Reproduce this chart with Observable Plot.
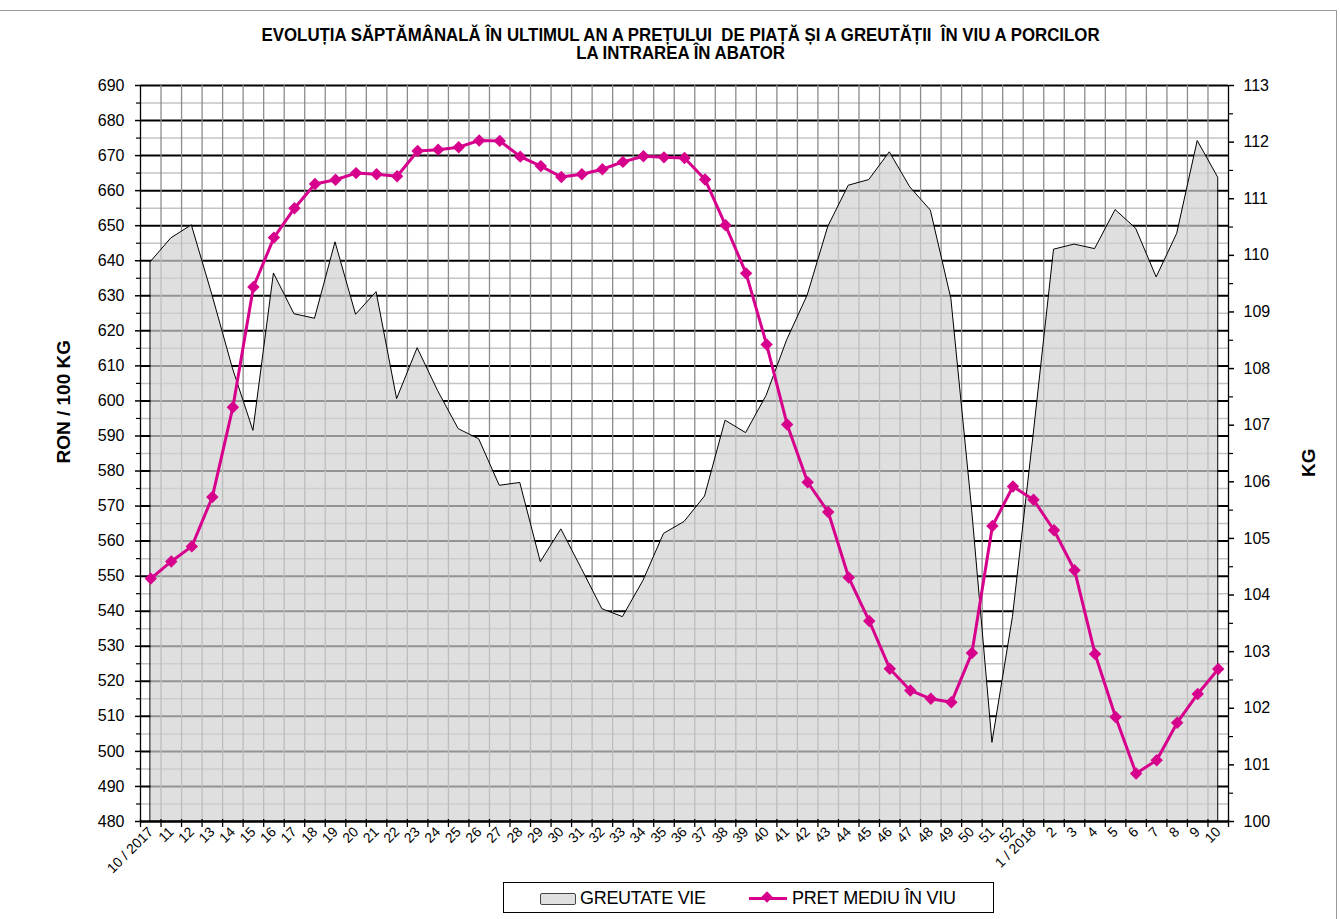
<!DOCTYPE html>
<html>
<head>
<meta charset="utf-8">
<script src="https://cdn.jsdelivr.net/npm/d3@7"></script>
<script src="https://cdn.jsdelivr.net/npm/@observablehq/plot@0.6"></script>
<style>
  html, body { margin: 0; padding: 0; background: #fff; }
  body { font-family: "Liberation Sans", Arial, sans-serif; color: #000; }
  #wrap { position: relative; width: 1340px; height: 919px; overflow: hidden; }
  #frameBorder { position: absolute; left: -2px; top: 10px; width: 1339px; height: 920px; border: 1px solid #9a9a9a; box-sizing: border-box; }
  #title { position: absolute; top: 26px; left: 0; width: 1362px; text-align: center; font-weight: bold; font-size: 17.5px; line-height: 18px; white-space: pre; }
  #title span { display: inline-block; transform: scaleX(0.962); transform-origin: center; }
  #chart { position: absolute; left: 0; top: 70px; }
  #legend { position: absolute; left: 503px; top: 882px; width: 491px; height: 31px; border: 1px solid #000; box-sizing: border-box; background: #fff; font-size: 18px; letter-spacing: -0.3px; }
  .item { position: absolute; top: 4px; white-space: nowrap; line-height: 22px; }
  .swatchA { position: absolute; left: 36px; top: 10px; width: 34px; height: 10px; background: #e0e0e0; border: 1px solid #444; border-radius: 2px; }
  .txtA { position: absolute; left: 76px; }
  .lineB { position: absolute; left: 245px; top: 14px; width: 38px; height: 3px; background: #d6008c; }
  .diaB { position: absolute; left: 259px; top: 10px; width: 8px; height: 8px; background: #d6008c; transform: rotate(45deg); }
  .txtB { position: absolute; left: 288px; }
</style>
</head>
<body>
<div id="wrap">
  <div id="frameBorder"></div>
  <div id="title"><div><span>EVOLUȚIA SĂPTĂMÂNALĂ ÎN ULTIMUL AN A PREȚULUI  DE PIAȚĂ ȘI A GREUTĂȚII  ÎN VIU A PORCILOR</span></div><div><span>LA INTRAREA ÎN ABATOR</span></div></div>
  <div id="chart"></div>
  <div id="legend">
    <div class="swatchA"></div>
    <div class="item txtA">GREUTATE VIE</div>
    <div class="lineB"></div>
    <div class="diaB"></div>
    <div class="item txtB">PRET MEDIU ÎN VIU</div>
  </div>
</div>
<script>
// ---- data ----
const weeks = ["10 / 2017","11","12","13","14","15","16","17","18","19","20","21","22","23","24","25","26","27","28","29","30","31","32","33","34","35","36","37","38","39","40","41","42","43","44","45","46","47","48","49","50","51","52","1 / 2018","2","3","4","5","6","7","8","9","10"];

// PRET MEDIU ÎN VIU (RON / 100 KG) - left axis
const price = [549.3,554.2,558.5,572.6,598.2,632.5,646.6,655.0,661.9,663.1,665.0,664.7,664.1,671.3,671.7,672.4,674.3,674.2,669.7,667.0,663.9,664.7,666.1,668.2,669.8,669.5,669.3,663.2,650.1,636.4,616.1,593.3,576.8,568.3,549.6,537.2,523.6,517.4,515.0,514.0,528.1,564.3,575.6,571.8,563.1,551.7,527.8,509.8,493.7,497.5,508.2,516.4,523.5];

// GREUTATE VIE (KG) - right axis
const weight = [109.88,110.30,110.53,109.30,108.00,106.90,109.68,108.96,108.88,110.23,108.95,109.35,107.46,108.36,107.60,106.93,106.75,105.93,105.98,104.58,105.16,104.46,103.75,103.61,104.25,105.08,105.29,105.74,107.08,106.86,107.52,108.50,109.29,110.50,111.23,111.33,111.82,111.20,110.79,109.23,105.55,101.39,103.61,106.80,110.10,110.19,110.11,110.80,110.47,109.61,110.38,112.02,111.37];

const leftTicks = d3.range(480, 691, 10);
const leftMinor = d3.range(485, 690, 10);
const rightTicks = d3.range(100, 114, 1);
const rightMinor = d3.range(100.5, 113, 1);

// ---- layout ----
const W = 1340, H = 805, ML = 140, MR = 112, MT = 15, MB = 54;
const step = (W - ML - MR) / weeks.length;
const magenta = "#d6008c";

// map right-axis (KG) values into the left-axis domain for the shared y scale
const L0 = 480, L1 = 690, R0 = 100, R1 = 113;
const toLeft = v => L0 + (v - R0) * (L1 - L0) / (R1 - R0);
const toRight = v => R0 + (v - L0) * (R1 - R0) / (L1 - L0);

const data = weeks.map((wk, i) => ({wk, price: price[i], weight: weight[i], wl: toLeft(weight[i])}));

const chart = Plot.plot({
  width: W, height: H,
  marginLeft: ML, marginRight: MR, marginTop: MT, marginBottom: MB,
  style: {fontFamily: "'Liberation Sans', Arial, sans-serif", fontSize: "16px", color: "#000", background: "transparent", overflow: "visible"},
  x: {type: "point", domain: weeks, padding: 0.5, align: 0.5, round: false},
  y: {domain: [L0, L1]},
  marks: [
    // gridlines
    Plot.ruleY(leftMinor, {stroke: "#c4c4c4", strokeWidth: 1.5}),
    Plot.ruleY(leftTicks, {stroke: "#000", strokeWidth: 2}),
    Plot.ruleX(weeks.slice(0, -1), {dx: step / 2, stroke: "#8c8c8c", strokeWidth: 1.3}),
    // weight area
    Plot.areaY(data, {x: "wk", y1: L0, y2: "wl", fill: "#d2d2d2", fillOpacity: 0.7, stroke: "#000", strokeWidth: 1}),
    // price line
    Plot.line(data, {x: "wk", y: "price", stroke: magenta, strokeWidth: 3}),
    Plot.dot(data, {x: "wk", y: "price", symbol: "diamond2", r: 5.6, fill: magenta, stroke: "none"}),
    // axis lines
    Plot.ruleX([weeks[0]], {dx: -step / 2, stroke: "#000", strokeWidth: 1.3}),
    Plot.ruleX([weeks[weeks.length - 1]], {dx: step / 2, stroke: "#000", strokeWidth: 1.3}),
    Plot.ruleY([L0], {stroke: "#000", strokeWidth: 2}),
    // x tick marks at category boundaries
    Plot.ruleX(weeks, {dx: step / 2, y1: L0, y2: L0, insetTop: -2, insetBottom: -6, stroke: "#000", strokeWidth: 1.3}),
    Plot.ruleX([weeks[0]], {dx: -step / 2, y1: L0, y2: L0, insetTop: -2, insetBottom: -6, stroke: "#000", strokeWidth: 1.3}),
    // left axis
    Plot.axisY({anchor: "left", ticks: leftTicks, tickSize: 5, tickPadding: 11, strokeWidth: 1.5, label: null, fontSize: 16}),
    Plot.axisY({anchor: "left", ticks: leftMinor, tickSize: 4, tickFormat: () => "", strokeWidth: 1.2, label: null}),
    // right axis
    Plot.axisY({anchor: "right", ticks: rightTicks.map(toLeft), tickFormat: d => String(Math.round(toRight(d))), tickSize: 5, tickPadding: 10, strokeWidth: 1.5, label: null, fontSize: 16}),
    Plot.axisY({anchor: "right", ticks: rightMinor.map(toLeft), tickSize: 4, tickFormat: () => "", strokeWidth: 1.2, label: null}),
    // x axis labels
    Plot.axisX({tickRotate: -45, tickSize: 0, tickPadding: 8, label: null, fontSize: 14}),
    // axis titles
    Plot.text([0], {frameAnchor: "left", dx: -77, dy: 10, text: () => "RON / 100 KG", rotate: -90, fontWeight: "bold", fontSize: 19}),
    Plot.text([0], {frameAnchor: "right", dx: 80, dy: -5, text: () => "KG", rotate: -90, fontWeight: "bold", fontSize: 19})
  ]
});
document.getElementById("chart").appendChild(chart);
</script>
</body>
</html>
